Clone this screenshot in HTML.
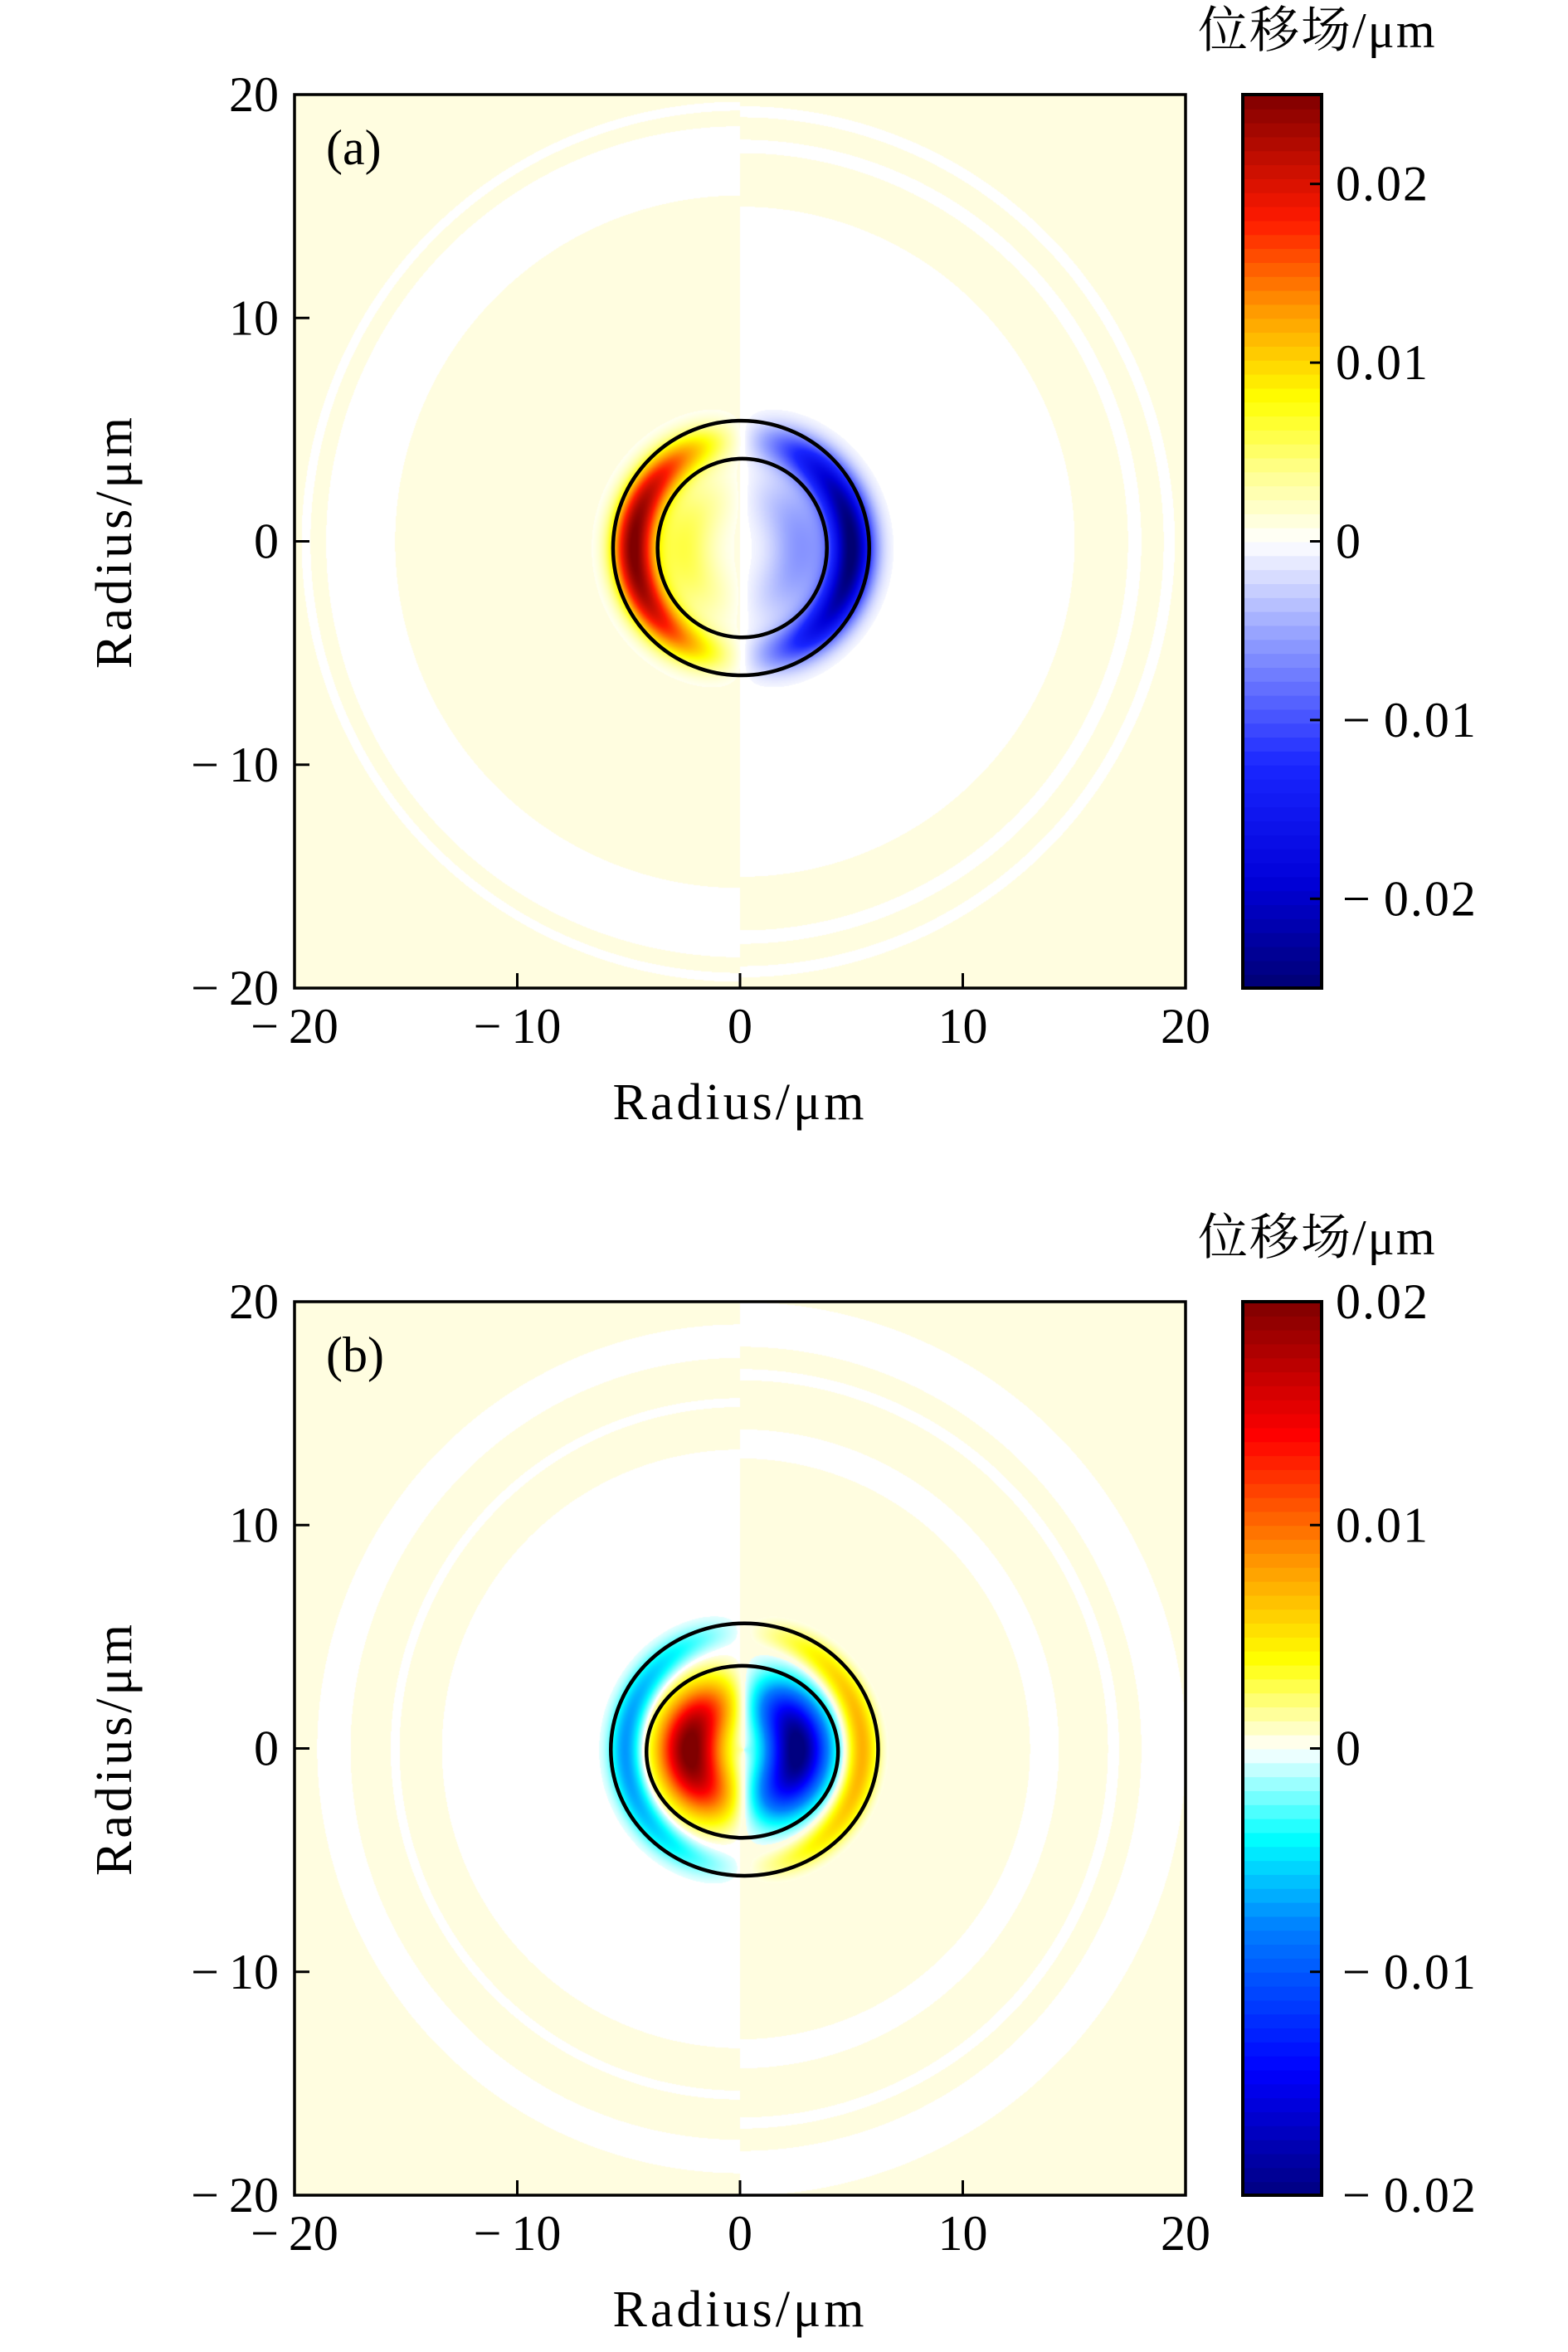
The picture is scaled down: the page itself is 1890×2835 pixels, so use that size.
<!DOCTYPE html>
<html><head><meta charset="utf-8">
<style>
html,body{margin:0;padding:0;background:#fff;}
#wrap{position:relative;width:1890px;height:2835px;overflow:hidden;font-family:"Liberation Serif","Noto Serif CJK SC",serif;color:#000;}
svg text{font-family:"Liberation Serif","Noto Serif CJK SC",serif;}
canvas{position:absolute;}
</style></head>
<body>
<div id="wrap">
<canvas id="cA" width="1074" height="1077" style="left:355px;top:114px;width:1074px;height:1077px"></canvas>
<canvas id="cB" width="1074" height="1077" style="left:355px;top:1569px;width:1074px;height:1077px"></canvas>
<svg id="ov" width="1890" height="2835" style="position:absolute;left:0;top:0"></svg>
</div>
<script>
// ---- data ----
const axisTicks = [-20,-10,0,10,20];
const tickLabels = ["\u2212\u200920","\u2212\u200910","0","10","20"];
const cbTicksA = [0.02,0.01,0,-0.01,-0.02];
const cbLabelsA = ["0.02","0.01","0","\u2212\u20090.01","\u2212\u20090.02"];
const cbTicksB = [0.02,0.01,0,-0.01,-0.02];
const cbLabelsB = ["0.02","0.01","0","\u2212\u20090.01","\u2212\u20090.02"];
const rangeA = [-0.025,0.025];
const rangeB = [-0.02,0.02];
// ellipses: [cx, cy, rx, ry] in µm
const ellipsesA = [[0.05,-0.3,5.75,5.7],[0.1,-0.3,3.8,4.0]];
const ellipsesB = [[0.2,-0.05,6.0,5.65],[0.1,-0.15,4.3,3.85]];
// field model peaks: [amplitude, radius, width]
const peaksA = [[0.025,4.9,0.95],[0.006,2.6,1.4]];
const peaksB = [[0.021,2.4,1.4],[-0.0075,5.3,0.7]];
const centerA = [0.1,-0.3];
const centerB = [0.15,-0.05];
// background yellow ring bands [r0,r1]
const bgLeftA = [[0,15.5],[18.6,19.3],[19.7,40]];
const bgRightA = [[15,17.4],[18,19],[19.5,40]];
const bgLeftB = [[13.4,15.3],[15.7,17.5],[19,40]];
const bgRightB = [[0,13],[14.3,16.5],[17,18],[20,40]];

const cmapA = [[0,[0,0,0.45]],[0.12,[0,0,0.85]],[0.25,[0.1,0.15,1]],[0.4,[0.6,0.65,1]],[0.5,[1,1,1]],[0.58,[1,1,0.55]],[0.66,[1,1,0]],[0.76,[1,0.6,0]],[0.86,[1,0.1,0]],[1,[0.5,0,0]]];
const cmapB = [[0,[0,0,0.5]],[0.14,[0,0,1]],[0.3,[0,0.5,1]],[0.4,[0,1,1]],[0.5,[1,1,1]],[0.6,[1,1,0]],[0.72,[1,0.55,0]],[0.85,[1,0,0]],[1,[0.5,0,0]]];

const L=355,R=1429,W=R-L,H=1077;
function sx(v){return L+(v+20)/40*W;}
function syF(top){return v=>top+(20-v)/40*H;}
function cm(stops,t){t=Math.max(0,Math.min(1,t));for(let i=1;i<stops.length;i++){if(t<=stops[i][0]){const a=stops[i-1],b=stops[i],f=(t-a[0])/(b[0]-a[0]);return a[1].map((c,k)=>Math.round(255*(c+(b[1][k]-c)*f)));}}return stops[stops.length-1][1].map(c=>Math.round(c*255));}
function inBands(b,r){for(const [a,c] of b){if(r>=a&&r<c)return true;}return false;}

function drawField(id,peaks,ctr,range,cmap,bgL,bgR){
  const cv=document.getElementById(id),ctx=cv.getContext('2d');
  const img=ctx.createImageData(W,H),d=img.data;
  for(let py=0;py<H;py++){const y=20-py/H*40;for(let px=0;px<W;px++){const x=-20+px/W*40;
    const dx=x-ctr[0],dy=y-ctr[1],r=Math.sqrt(dx*dx+dy*dy)+1e-6;let f=0;
    for(const p of peaks){f+=p[0]*Math.exp(-Math.pow((r-p[1])/p[2],2));}
    const u=-(dx/r)*f;let col;
    if(Math.abs(u)<0.0004*(range[1]/0.02)){const rr=Math.sqrt(x*x+y*y);const yel=x<0?inBands(bgL,rr):inBands(bgR,rr);col=yel?[255,253,224]:[255,255,255];}
    else col=cm(cmap,(u-range[0])/(range[1]-range[0]));
    const i=(py*W+px)*4;d[i]=col[0];d[i+1]=col[1];d[i+2]=col[2];d[i+3]=255;}}
  ctx.putImageData(img,0,0);
}
drawField('cA',peaksA,centerA,rangeA,cmapA,bgLeftA,bgRightA);
drawField('cB',peaksB,centerB,rangeB,cmapB,bgLeftB,bgRightB);

const NS='http://www.w3.org/2000/svg',svg=document.getElementById('ov');
function el(tag,attrs,parent){const e=document.createElementNS(NS,tag);for(const k in attrs)e.setAttribute(k,attrs[k]);(parent||svg).appendChild(e);return e;}

function panel(top,letter,ellipses,cbTicks,cbLabels,range,cmap,tag){
  const sy=syF(top);
  const g=el('g',{});
  
  
  ellipses.forEach((e,i)=>{const c=el('ellipse',{cx:sx(e[0]),cy:sy(e[1]),rx:e[2]/40*W,ry:e[3]/40*H,fill:'none',stroke:'#000','stroke-width':4.5},g);
    
    });
  const fr=el('rect',{x:L,y:top,width:W,height:H,fill:'none',stroke:'#000','stroke-width':3.5},g);
  
  
  axisTicks.forEach((v,i)=>{
    el('line',{x1:sx(v),x2:sx(v),y1:top+H,y2:top+H-18,stroke:'#000','stroke-width':3},g);
    el('line',{x1:L,x2:L+18,y1:sy(v),y2:sy(v),stroke:'#000','stroke-width':3},g);
    const tx=el('text',{x:sx(v),y:top+H+66,'font-size':60,'text-anchor':'middle'},g);tx.textContent=tickLabels[i];
    
    
    const ty=el('text',{x:336,y:sy(v)+20,'font-size':60,'text-anchor':'end'},g);ty.textContent=tickLabels[i];
    
    
  });
  const xl=el('text',{x:892,y:top+H+158,'font-size':62,'text-anchor':'middle','letter-spacing':4},g);xl.textContent='Radius/\u03bcm';
  
  
  const yl=el('text',{x:0,y:0,'font-size':62,'text-anchor':'middle','letter-spacing':4,transform:`translate(158,${top+H/2}) rotate(-90)`},g);yl.textContent='Radius/\u03bcm';
  
  
  const pl=el('text',{x:393,y:top+84,'font-size':60},g);pl.textContent=letter;
  
  
  // colorbar
  const cx0=1498,cw=95,n=64;
  for(let i=0;i<n;i++){const t=(i+0.5)/n;const c=cm(cmap,t);
    const r=el('rect',{x:cx0,y:top+H*(1-(i+1)/n),width:cw,height:H/n+1,fill:`rgb(${c[0]},${c[1]},${c[2]})`},g);
    
    }
  const cbf=el('rect',{x:cx0,y:top,width:cw,height:H,fill:'none',stroke:'#000','stroke-width':4},g);
  
  
  const cy=v=>top+H*(range[1]-v)/(range[1]-range[0]);
  cbTicks.forEach((v,i)=>{el('line',{x1:cx0+cw,x2:cx0+cw-14,y1:cy(v),y2:cy(v),stroke:'#000','stroke-width':3},g);
    const t=el('text',{x:cbLabels[i].startsWith('\u2212')?1618:1610,y:cy(v)+20,'font-size':60,'letter-spacing':2},g);t.textContent=cbLabels[i];
    
    });
  const ct=el('text',{x:1444,y:top-57,'font-size':60,'letter-spacing':2},g);ct.textContent='\u4f4d\u79fb\u573a/\u03bcm';
  
  
}
panel(114,'(a)',ellipsesA,cbTicksA,cbLabelsA,rangeA,cmapA,'a');
panel(1569,'(b)',ellipsesB,cbTicksB,cbLabelsB,rangeB,cmapB,'b');
</script>
</body></html>
